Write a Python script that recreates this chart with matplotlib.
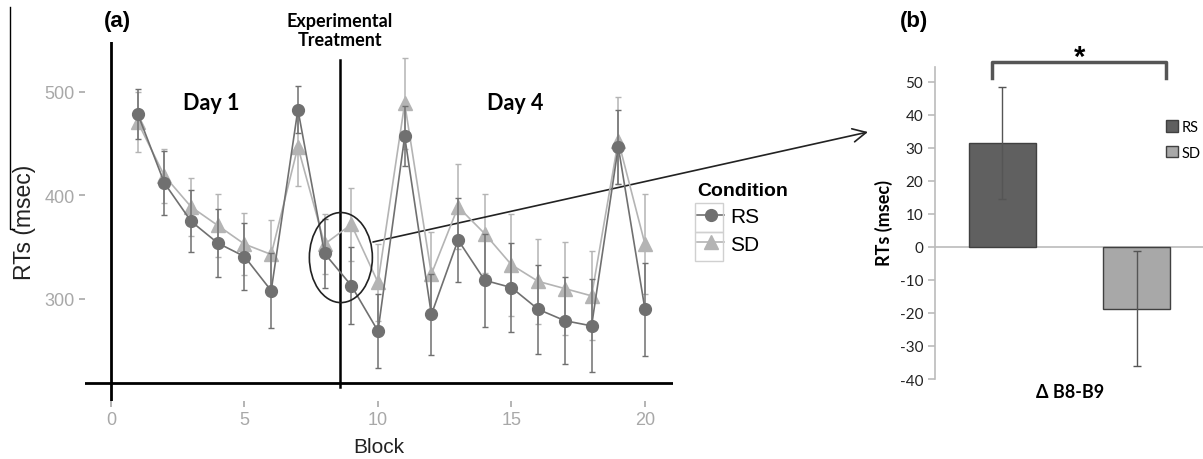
import numpy as np
import matplotlib
matplotlib.use("Agg")
from matplotlib import pyplot as plt
from matplotlib.patches import Ellipse, Patch, Rectangle
from matplotlib.lines import Line2D

# panel (a) data: mean RT per block and error bars
blocks = np.arange(1, 21)
rs_mean = [479, 412, 375, 354, 341, 308, 483, 344, 313, 269,
           457, 285, 357, 318, 311, 290, 279, 274, 447, 290]
rs_err = [24, 31, 30, 33, 32, 36, 23, 33, 37, 36,
          29, 39, 41, 45, 43, 43, 42, 45, 36, 45]
sd_mean = [471, 419, 389, 371, 353, 343, 447, 353, 372, 316,
           489, 324, 389, 363, 333, 317, 310, 303, 453, 353]
sd_err = [29, 26, 28, 30, 30, 33, 38, 29, 35, 37,
          44, 41, 41, 38, 49, 41, 45, 43, 42, 48]

# panel (b) data: change from block 8 to block 9
groups = ["RS", "SD"]
delta_mean = [31.5, -18.7]
delta_err = [17.0, 17.4]

W, H = 1203, 460
fig = plt.figure(figsize=(W / 100, H / 100), dpi=100)
plt.rcParams['font.family'] = ['Liberation Sans', 'DejaVu Sans']
plt.rcParams['axes.unicode_minus'] = False


def box(l, t, r, b):
    return [l / W, 1 - b / H, (r - l) / W, (b - t) / H]


def fpt(x, y):
    return (x / W, 1 - y / H)


rs_col = '#707070'
sd_col = '#b4b4b4'

# ---------- panel (a) ----------
ax = fig.add_axes(box(85, 43, 673, 402))
ax.set_xlim(-0.974, 21.05)
ax.set_ylim(201.4, 548.3)
for s in ax.spines.values():
    s.set_visible(False)

ax.errorbar(blocks, sd_mean, yerr=sd_err, color=sd_col, marker='^', ms=9.5,
            lw=1.2, elinewidth=1.1, capsize=2, zorder=3)
ax.errorbar(blocks, rs_mean, yerr=rs_err, color=rs_col, marker='o', ms=8.5,
            lw=1.2, elinewidth=1.1, capsize=2, zorder=4)

ax.axvline(0, color='black', lw=2)
ax.axhline(219, color='black', lw=2)
ax.plot([8.58, 8.58], [215, 531], color='black', lw=1.8)
ax.add_patch(Ellipse((8.61, 340), width=2.36, height=87, fill=False,
                     ec='#222222', lw=1.2, zorder=5))

ax.set_xticks([0, 5, 10, 15, 20])
ax.set_yticks([300, 400, 500])
ax.tick_params(axis='both', colors='#a8a8a8', labelsize=13, length=4, width=1.2)
ax.set_xlabel('Block', fontsize=15, color='#222222', labelpad=6)
ax.set_ylabel('RTs (msec)', fontsize=16.5, color='#222222', labelpad=6)

handles = [Line2D([], [], color=rs_col, marker='o', ms=8.5, lw=1.2),
           Line2D([], [], color=sd_col, marker='^', ms=9.5, lw=1.2)]
leg = ax.legend(handles, groups, title='Condition', loc='upper left',
                bbox_to_anchor=fpt(697, 183), bbox_transform=fig.transFigure,
                frameon=False, fontsize=15, handlelength=1.3, borderpad=0,
                borderaxespad=0, handletextpad=0.3, labelspacing=0.4,
                title_fontproperties={'weight': 'bold', 'size': 14})
leg._legend_box.align = 'left'
# grey key boxes as in ggplot legend
for top in (204, 233):
    fig.add_artist(Rectangle(fpt(695, top + 29), 28 / W, 29 / H,
                             transform=fig.transFigure, fill=False,
                             ec='#d0d0d0', lw=1))

ann = dict(family=['Lato', 'DejaVu Sans'], weight='bold', ha='center', va='center')
fig.text(*fpt(340, 31), 'Experimental\nTreatment', fontsize=13,
         linespacing=1.1, **ann)
fig.text(*fpt(211, 103), 'Day 1', fontsize=15.5, **ann)
fig.text(*fpt(515, 103), 'Day 4', fontsize=15.5, **ann)
fig.text(*fpt(117, 22), '(a)', fontsize=16, weight='bold', ha='center', va='center')
fig.text(*fpt(914, 22), '(b)', fontsize=16, weight='bold', ha='center', va='center')

ax.annotate('', xy=fpt(868, 133), xycoords='figure fraction',
            xytext=fpt(373, 243), textcoords='figure fraction',
            arrowprops=dict(arrowstyle='->', lw=1.2, color='#222222',
                            mutation_scale=24, shrinkA=0, shrinkB=0))

# stray border at top-left of the original figure
fig.add_artist(Line2D([9.5 / W, 9.5 / W, 14 / W], [1 - 8 / H, 1 - 230 / H, 1 - 230 / H],
                      color='black', lw=1))

# ---------- panel (b) ----------
bx = fig.add_axes(box(935, 68, 1203, 380))
bx.set_xlim(0, 4)
bx.set_ylim(-40, 54.5)
pos = [1.0, 3.01]
bx.bar(pos, delta_mean, width=1.0, color=['#606060', '#a8a8a8'],
       edgecolor='#404040', lw=1, zorder=2)
bx.errorbar(pos, delta_mean, yerr=delta_err, fmt='none', ecolor='#555555',
            elinewidth=1, capsize=3, zorder=3)
bx.axhline(0, color='#bbbbbb', lw=1.2, zorder=1)
for k in ['top', 'right', 'bottom']:
    bx.spines[k].set_visible(False)
bx.spines['left'].set_color('#bbbbbb')
bx.spines['left'].set_linewidth(1.2)
bx.set_yticks(np.arange(-40, 51, 10))
bx.set_xticks([])
bx.tick_params(axis='y', colors='#bbbbbb', labelcolor='#222222',
               labelsize=11, length=5, width=1.2)
for t in bx.get_yticklabels():
    t.set_family(['Lato', 'DejaVu Sans'])

bx.plot([0.85, 0.85, 3.45, 3.45], [51.2, 56, 56, 51.2], color='#555555',
        lw=2.5, clip_on=False)
bx.text(2.15, 57.5, '*', fontsize=21, weight='bold', ha='center', va='center')

fig.text(*fpt(884, 223), 'RTs (msec)', fontsize=13, rotation=90, **ann)
fig.text(*fpt(1070, 393), 'Δ B8-B9', fontsize=13, **ann)

bx.legend([Patch(fc='#606060', ec='#404040'), Patch(fc='#a8a8a8', ec='#404040')],
          groups, loc='upper left', bbox_to_anchor=fpt(1166, 121),
          bbox_transform=fig.transFigure, frameon=False, borderpad=0,
          borderaxespad=0, handlelength=0.8, handleheight=0.8,
          handletextpad=0.3, labelspacing=0.8,
          prop={'family': ['Lato', 'DejaVu Sans'], 'size': 10.5})

fig.savefig('out.png', dpi=100)
